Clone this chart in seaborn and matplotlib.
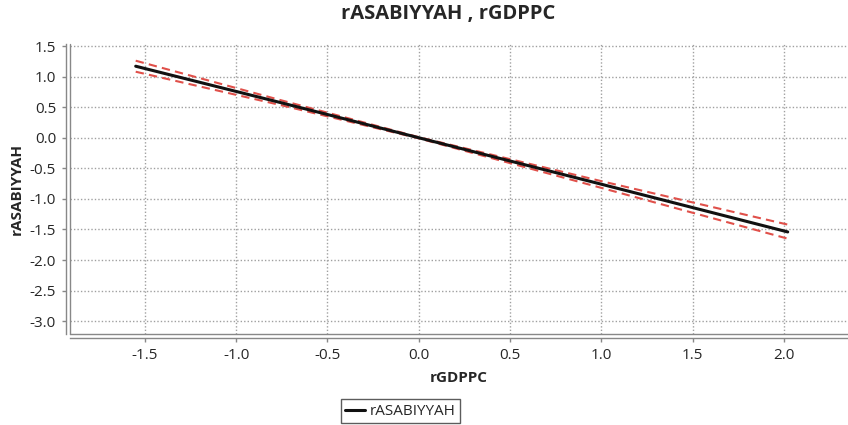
import numpy as np
import pandas as pd
import matplotlib
matplotlib.use('Agg')
import matplotlib.pyplot as plt
import seaborn as sns
from matplotlib.lines import Line2D

# ==========================================
# DADOS
# ==========================================
x_vals = [-1.55, -0.75, 0.0, 1.0, 2.02]
fit_vals = [1.17, 0.57, 0.0, -0.76, -1.54]
upper_vals = [1.26, 0.61, 0.01, -0.71, -1.42]
lower_vals = [1.08, 0.53, -0.01, -0.82, -1.65]

x_ticks = [-1.5, -1.0, -0.5, 0.0, 0.5, 1.0, 1.5, 2.0]
y_ticks = [1.5, 1.0, 0.5, 0.0, -0.5, -1.0, -1.5, -2.0, -2.5, -3.0]

df = pd.DataFrame({'rGDPPC': x_vals, 'fit': fit_vals,
                   'upper': upper_vals, 'lower': lower_vals})

# ==========================================
# ESTILO
# ==========================================
sns.set_theme(style="white")
plt.rcParams['font.family'] = ['Open Sans', 'DejaVu Sans']

fig = plt.figure(figsize=(8.48, 4.25), dpi=100)
ax = fig.add_axes([0.0825, 0.214, 0.9175, 0.682])

sns.lineplot(data=df, x='rGDPPC', y='upper', color='#e0504a', linestyle=(0, (4, 2.5)),
             linewidth=1.5, ax=ax, legend=False)
sns.lineplot(data=df, x='rGDPPC', y='lower', color='#e0504a', linestyle=(0, (4, 2.5)),
             linewidth=1.5, ax=ax, legend=False)
sns.lineplot(data=df, x='rGDPPC', y='fit', color='#111111', linewidth=2.2, ax=ax, legend=False)

ax.set_xlim(-1.91, 2.35)
ax.set_ylim(-3.21, 1.53)
ax.set_xticks(x_ticks)
ax.set_yticks(y_ticks)
ax.set_xticklabels([f"{v:.1f}" for v in x_ticks], fontsize=11, color='#222222')
ax.set_yticklabels([f"{v:.1f}" for v in y_ticks], fontsize=11, color='#222222')

ax.grid(True, color='#a0a0a0', linestyle=(0, (1.0, 1.5)), linewidth=1.0)
ax.tick_params(axis='both', length=3, width=1, color='#888888', pad=4,
               bottom=True, left=True)

for s in ['top', 'right']:
    ax.spines[s].set_visible(False)
for s in ['left', 'bottom']:
    ax.spines[s].set_color('#888888')
    ax.spines[s].set_linewidth(1.0)
# linha dupla nos eixos
ax.spines['left'].set_position(('outward', 3))
ax.spines['bottom'].set_position(('outward', 3))
ax.axvline(-1.91, color='#888888', linewidth=1.0, clip_on=False)
ax.axhline(-3.21, color='#888888', linewidth=1.0, clip_on=False)

ax.set_xlabel('rGDPPC', fontsize=11, fontweight='bold', labelpad=6)
ax.set_ylabel('rASABIYYAH', fontsize=11, fontweight='bold', labelpad=4)
fig.suptitle('rASABIYYAH , rGDPPC', x=0.528, y=0.99, fontsize=14.5, fontweight='bold')

handle = Line2D([], [], color='#111111', linewidth=2.2)
leg = fig.legend([handle], ['rASABIYYAH'], loc='center', bbox_to_anchor=(0.472, 0.032),
                 fontsize=11, frameon=True, fancybox=False, handlelength=1.3,
                 handletextpad=0.3, borderpad=0.3, borderaxespad=0)
leg.get_frame().set_edgecolor('#333333')
leg.get_frame().set_linewidth(1.0)

fig.savefig('out.png', dpi=100)
